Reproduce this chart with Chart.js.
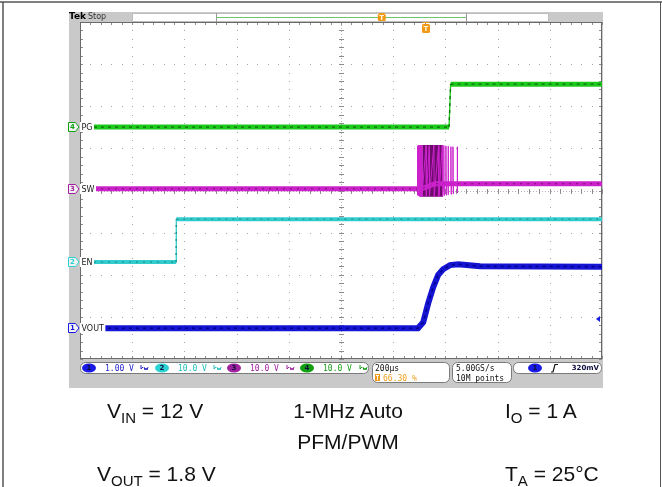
<!DOCTYPE html>
<html>
<head>
<meta charset="utf-8">
<script src="https://cdn.jsdelivr.net/npm/chart.js@4.4.1/dist/chart.umd.min.js"></script>
<style>
  html, body { margin: 0; padding: 0; background: #fff; }
  #wrap { position: relative; width: 662px; height: 487px; overflow: hidden; }
  #scope { position: absolute; left: 0; top: 0; }
  .cap { position: absolute; font-family: "Liberation Sans", Arial, sans-serif; font-size: 21px; line-height: 21px; color: #111; white-space: nowrap; }
  .cap sub { font-size: 15px; line-height: 0; vertical-align: -5px; }
  .mid { transform: translateX(-50%); }
</style>
</head>
<body>
<div id="wrap">
  <canvas id="scope" width="662" height="487"></canvas>
  <div class="cap" style="left:107px; top:400px;">V<sub>IN</sub> = 12 V</div>
  <div class="cap mid" style="left:348px; top:400px;">1-MHz Auto</div>
  <div class="cap" style="left:505px; top:400px;">I<sub>O</sub> = 1 A</div>
  <div class="cap mid" style="left:348px; top:431px;">PFM/PWM</div>
  <div class="cap" style="left:97px; top:463px;">V<sub>OUT</sub> = 1.8 V</div>
  <div class="cap" style="left:505px; top:463px;">T<sub>A</sub> = 25°C</div>
</div>
<script>
// time window: 200 us/div, 10 div, trigger at 66.3 % of record
var timeWindowUs = [-1326, 674];
var timePerDivUs = 200;

// channels 1..4
var channelNames = ['VOUT', 'EN', 'SW', 'PG'];
var channelScaleText = ['1.00 V', '10.0 V', '10.0 V', '10.0 V'];
var channelVoltsPerDiv = [1, 10, 10, 10];
var channelOffsetDiv = [-3.27, -1.70, 0.04, 1.505];

// traces, [time us, volts]
var voutTrace = [[-1326, 0], [-31, 0], [-11, 0.14], [8, 0.59], [27, 0.97], [46, 1.26],
                 [65, 1.40], [92, 1.50], [123, 1.52], [207, 1.47], [674, 1.46]];
var enTrace = [[-1326, 0], [-958, 0], [-957, 10.2], [674, 10.2]];
var pgTrace = [[-1326, 0], [88, 0], [94, 10.2], [674, 10.2]];
var swTrace = [[-1326, 0], [-18, 0], [35, 1.2], [674, 1.2]];
var swSpikes = [[-33, 0], [-33, 10.2], [-32, -1.5], [-29, 10.3], [-28, -1.7], [-25, 10.4], [-24, -1.8],
                [-21, 10.4], [-20, -1.9], [-17, 10.4], [-16, -1.9], [0, 10.3], [1, -1.8], [12, 10.2],
                [13, -1.7], [30, 10.4], [31, -1.9], [48, 10.3], [49, -1.8], [62, 10.4], [63, -1.9],
                [68, 1.2], [68, 10.3], [69, -1.6], [70, 1.2], [76, 1.2], [76, 10.2], [77, -1.5], [78, 1.2],
                [84, 1.2], [84, 10.1], [85, -1.4], [86, 1.2], [95, 1.2], [95, 10.0], [96, -1.3], [97, 1.2],
                [103, 1.2], [103, 10.0], [104, -1.2], [105, 1.2], [119, 1.2], [119, 10.0], [120, -1.0], [121, 1.2]];
var swBurstBand = [[-15, 10.4], [65, 10.4]];
var swBurstLowVolts = -1.9;
var triggerLevelVolts = 0.32;

var colors = ['#1414d2', '#33cccc', '#cc22cc', '#1cca1c'];
var darkColors = ['#00008a', '#168a8a', '#701070', '#0c6e0c'];
var badgeColors = ['#1a1ae6', '#2ad2d2', '#a020a0', '#12a012'];
var textColors = ['#2424c8', '#22bcbc', '#a020a0', '#18a018'];

function toDiv(trace, ch) {
  return trace.map(function (p) {
    return { x: p[0], y: channelOffsetDiv[ch] + p[1] / channelVoltsPerDiv[ch] };
  });
}

// thin line on the fast edges, thick band on the flat parts
function edgeWidth(thick) {
  return function (ctx) {
    return Math.abs(ctx.p1.x - ctx.p0.x) < 3 ? 1.3 : thick;
  };
}

function traceSet(data, color, width, order, dash, segW) {
  var ds = { data: data, borderColor: color, borderWidth: width, pointRadius: 0, tension: 0, fill: false, order: order };
  if (dash) ds.borderDash = dash;
  if (segW) ds.segment = { borderWidth: segW };
  return ds;
}

var datasets = [
  traceSet(toDiv(voutTrace, 0), colors[0], 6, 2),
  traceSet(toDiv(voutTrace, 0), darkColors[0], 1.5, 1, [3, 4]),
  traceSet(toDiv(enTrace, 1), colors[1], 4, 6, null, edgeWidth(4)),
  traceSet(toDiv(enTrace, 1), darkColors[1], 1, 5, [2, 5], edgeWidth(1)),
  {
    data: toDiv(swBurstBand, 2), borderWidth: 0, pointRadius: 0, order: 10,
    backgroundColor: '#6e0c6e',
    fill: { value: channelOffsetDiv[2] + swBurstLowVolts / channelVoltsPerDiv[2] }
  },
  traceSet(toDiv(swTrace, 2), colors[2], 5, 9),
  traceSet(toDiv(swTrace, 2), darkColors[2], 1, 8, [2, 5]),
  traceSet(toDiv(swSpikes, 2), colors[2], 1, 7),
  traceSet(toDiv(pgTrace, 3), colors[3], 5, 4, null, edgeWidth(5)),
  traceSet(toDiv(pgTrace, 3), darkColors[3], 1.2, 3, [3, 4], edgeWidth(1.2))
];

function roundBox(c, x, y, w, h, r) {
  c.beginPath();
  c.moveTo(x + r, y);
  c.arcTo(x + w, y, x + w, y + h, r);
  c.arcTo(x + w, y + h, x, y + h, r);
  c.arcTo(x, y + h, x, y, r);
  c.arcTo(x, y, x + w, y, r);
  c.closePath();
}

function badge(c, cx, cy, color, num) {
  c.fillStyle = color;
  c.beginPath();
  c.ellipse(cx, cy, 7, 4.5, 0, 0, Math.PI * 2);
  c.fill();
  c.fillStyle = '#101040';
  c.font = 'bold 7px "DejaVu Sans"';
  c.textAlign = 'center';
  c.fillText(String(num), cx, cy + 0.5);
  c.textAlign = 'left';
}

function tMarker(c, cx, top, h) {
  c.fillStyle = '#f29a18';
  roundBox(c, cx - 4, top, 8, h, 1.5);
  c.fill();
  c.fillStyle = '#fff3d8';
  c.font = 'bold 7px "DejaVu Sans"';
  c.textAlign = 'center';
  c.textBaseline = 'middle';
  c.fillText('T', cx, top + h / 2 + 0.5);
  c.textAlign = 'left';
}

function bwIcon(c, x, y, color) {
  c.strokeStyle = color;
  c.lineWidth = 1;
  c.beginPath();
  c.moveTo(x, y - 3); c.lineTo(x, y + 1); c.lineTo(x + 2, y - 1);
  c.moveTo(x + 3, y - 1); c.lineTo(x + 4, y + 2); c.lineTo(x + 5, y); c.lineTo(x + 6, y + 2); c.lineTo(x + 7, y - 1);
  c.stroke();
}

var scopeDecor = {
  id: 'scopeDecor',
  beforeDraw: function (chart) {
    var c = chart.ctx, a = chart.chartArea;
    var xs = chart.scales.x, ys = chart.scales.y;
    c.save();
    c.fillStyle = '#fff';
    c.fillRect(0, 0, 662, 487);
    // outer frame
    c.strokeStyle = '#555';
    c.lineWidth = 1.5;
    c.beginPath();
    c.moveTo(0, 2); c.lineTo(662, 2);
    c.moveTo(3, 2); c.lineTo(3, 487);
    c.stroke();
    c.lineWidth = 1;
    c.beginPath();
    c.moveTo(660.5, 2); c.lineTo(660.5, 487);
    c.stroke();
    // scope screen
    c.fillStyle = '#c9c9c9';
    c.fillRect(69, 12, 534, 376);
    c.fillStyle = '#fff';
    c.fillRect(a.left, a.top, a.right - a.left, a.bottom - a.top);

    // dotted graticule
    c.fillStyle = '#a4a4a4';
    var i, j, x, y;
    for (i = 1; i < 10; i++) {
      x = Math.round(xs.getPixelForValue(timeWindowUs[0] + i * timePerDivUs));
      for (j = 0; j <= 40; j++) {
        y = Math.round(ys.getPixelForValue(-4 + j * 0.2));
        c.fillRect(x, y, 1, 1);
      }
    }
    for (j = 1; j < 8; j++) {
      y = Math.round(ys.getPixelForValue(-4 + j));
      for (i = 0; i <= 50; i++) {
        x = Math.round(xs.getPixelForValue(timeWindowUs[0] + i * timePerDivUs / 5));
        c.fillRect(x, y, 1, 1);
      }
    }
    // centre cross with minor ticks
    var cx = Math.round(xs.getPixelForValue(timeWindowUs[0] + 5 * timePerDivUs));
    var cy = Math.round(ys.getPixelForValue(0));
    c.fillStyle = '#b4b4b4';
    for (y = a.top; y < a.bottom; y += 3) c.fillRect(cx, y, 1, 1);
    for (x = a.left; x < a.right; x += 3) c.fillRect(x, cy, 1, 1);
    c.fillStyle = '#8c8c8c';
    for (j = 0; j <= 40; j++) {
      y = Math.round(ys.getPixelForValue(-4 + j * 0.2));
      c.fillRect(cx - 2, y, 5, 1);
      c.fillRect(a.left, y, 3, 1);
      c.fillRect(a.right - 3, y, 3, 1);
    }
    for (i = 0; i <= 50; i++) {
      x = Math.round(xs.getPixelForValue(timeWindowUs[0] + i * timePerDivUs / 5));
      c.fillRect(x, cy - 2, 1, 5);
      c.fillRect(x, a.top, 1, 3);
      c.fillRect(x, a.bottom - 3, 1, 3);
    }
    c.strokeStyle = '#6a6a6a';
    c.lineWidth = 1;
    c.strokeRect(a.left + 0.5, a.top + 0.5, a.right - a.left - 1, a.bottom - a.top - 1);
    c.restore();
  },
  afterDatasetsDraw: function (chart) {
    var c = chart.ctx, a = chart.chartArea;
    var xs = chart.scales.x, ys = chart.scales.y;
    c.save();
    c.textBaseline = 'middle';

    // channel ground labels on the left
    channelNames.forEach(function (name, k) {
      var y = Math.round(ys.getPixelForValue(channelOffsetDiv[k]));
      c.font = '8px "DejaVu Sans"';
      var w = c.measureText(name).width;
      c.fillStyle = '#fff';
      c.fillRect(a.left, y - 5, w + 3, 10);
      c.fillStyle = '#1a1a1a';
      c.fillText(name, a.left + 1.5, y + 0.5);
      c.fillStyle = '#f2f2f2';
      c.strokeStyle = badgeColors[k];
      c.lineWidth = 1;
      c.beginPath();
      c.moveTo(68.5, y - 4.5); c.lineTo(75.5, y - 4.5); c.lineTo(79, y); c.lineTo(75.5, y + 4.5); c.lineTo(68.5, y + 4.5);
      c.closePath();
      c.fill(); c.stroke();
      c.fillStyle = badgeColors[k];
      c.font = 'bold 7px "DejaVu Sans"';
      c.textAlign = 'center';
      c.fillText(String(k + 1), 72.5, y + 0.5);
      c.textAlign = 'left';
    });

    // trigger position and level markers
    var tx = Math.round(xs.getPixelForValue(0)) - 0.5;
    c.fillStyle = '#f29a18';
    c.fillRect(tx - 3, a.top, 7, 1);
    tMarker(c, tx + 0.5, a.top + 2, 9);
    var ly = Math.round(ys.getPixelForValue(channelOffsetDiv[0] + 0.22 / channelVoltsPerDiv[0]));
    c.fillStyle = badgeColors[0];
    c.beginPath();
    c.moveTo(a.right - 6, ly); c.lineTo(a.right - 2, ly - 3); c.lineTo(a.right - 2, ly + 3);
    c.closePath(); c.fill();

    // header bar
    c.font = 'bold 9px "DejaVu Sans"';
    c.fillStyle = '#000';
    c.fillText('Tek', 69, 17);
    c.font = '8px "DejaVu Sans"';
    c.fillStyle = '#333';
    c.fillText('Stop', 88, 17);
    c.fillStyle = '#fff';
    c.fillRect(132, 13, 417, 9);
    c.strokeStyle = '#bdbdbd';
    c.strokeRect(132.5, 13.5, 416, 8);
    var h0 = 216, h1 = 466;
    c.strokeStyle = '#999';
    c.beginPath();
    c.moveTo(h0 + 0.5, 13); c.lineTo(h0 + 0.5, 22);
    c.moveTo(h1 + 0.5, 13); c.lineTo(h1 + 0.5, 22);
    c.stroke();
    c.strokeStyle = '#6cc46c';
    c.lineWidth = 1.2;
    c.beginPath();
    c.moveTo(h0, 17.5); c.lineTo(h1, 17.5);
    c.stroke();
    var hx = h0 + (h1 - h0) * (-timeWindowUs[0]) / (timeWindowUs[1] - timeWindowUs[0]);
    c.fillStyle = '#f29a18';
    c.fillRect(hx - 3, 13, 6, 1);
    tMarker(c, hx, 14, 7);

    // status bar
    c.lineWidth = 1;
    c.strokeStyle = '#7a7a7a';
    c.fillStyle = '#fff';
    [[80.5, 362.5, 288, 11], [372.5, 362.5, 77, 20], [452.5, 362.5, 59, 20], [513.5, 362.5, 88, 11]].forEach(function (b) {
      roundBox(c, b[0], b[1], b[2], b[3], 5);
      c.fill(); c.stroke();
      c.fillStyle = '#fff';
    });
    var chX = [89, 162, 234, 307];
    var valX = [105, 178, 250, 323];
    var iconX = [141, 214, 287, 360];
    c.textBaseline = 'middle';
    for (var k = 0; k < 4; k++) {
      badge(c, chX[k], 368, badgeColors[k], k + 1);
      c.font = '8px "DejaVu Sans Mono"';
      c.fillStyle = textColors[k];
      c.fillText(channelScaleText[k], valX[k], 368.5);
      bwIcon(c, iconX[k], 368, textColors[k]);
    }
    c.font = '8px "DejaVu Sans Mono"';
    c.fillStyle = '#111';
    c.fillText('200\u00b5s', 375, 368.5);
    c.fillStyle = '#f29a18';
    c.fillRect(375, 374, 5, 7);
    c.fillStyle = '#fff';
    c.fillRect(376, 375, 3, 1); c.fillRect(377, 375, 1, 5);
    c.fillStyle = '#f0a020';
    c.fillText('66.30 %', 383, 378.5);
    c.fillStyle = '#111';
    c.fillText('5.00GS/s', 456, 368.5);
    c.fillText('10M points', 456, 378.5);
    badge(c, 535, 368, badgeColors[0], 1);
    c.strokeStyle = '#111';
    c.lineWidth = 1.2;
    c.beginPath();
    c.moveTo(551, 372); c.lineTo(553, 372); c.lineTo(555, 364.5); c.lineTo(558, 364.5);
    c.stroke();
    c.textAlign = 'right';
    c.fillText('320mV', 599, 368.5);
    c.restore();
  }
};

var ctx = document.getElementById('scope').getContext('2d');
var scopeChart = new Chart(ctx, {
  type: 'line',
  data: { datasets: datasets },
  options: {
    responsive: false,
    animation: false,
    devicePixelRatio: 1,
    layout: { padding: { left: 80, top: 22, right: 60, bottom: 128 } },
    scales: {
      x: { type: 'linear', min: timeWindowUs[0], max: timeWindowUs[1], display: false },
      y: { type: 'linear', min: -4, max: 4, display: false }
    },
    plugins: { legend: { display: false }, tooltip: { enabled: false } },
    elements: { point: { radius: 0 }, line: { tension: 0 } }
  },
  plugins: [scopeDecor]
});
</script>
</body>
</html>
